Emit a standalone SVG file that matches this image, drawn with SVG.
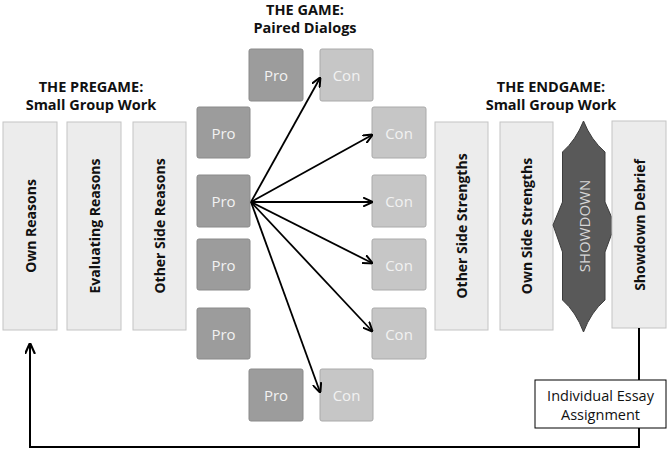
<svg xmlns="http://www.w3.org/2000/svg" width="670" height="453" viewBox="0 0 670 453">
<style>
.title{font-family:"Open Sans","Liberation Sans",sans-serif;font-weight:700;font-size:14.5px;fill:#111;text-anchor:middle}
.col{fill:#ececec;stroke:#c4c4c4;stroke-width:1}
.ct{font-family:"Open Sans","Liberation Sans",sans-serif;font-weight:700;font-size:14px;fill:#111;text-anchor:middle;dominant-baseline:central}
.pro{fill:#9c9c9c;stroke:#8a8a8a;stroke-width:1}
.con{fill:#c6c6c6;stroke:#aaaaaa;stroke-width:1}
.pt{font-family:"Open Sans","Liberation Sans",sans-serif;font-size:15px;fill:#f2f2f2;text-anchor:middle;dominant-baseline:central}
.arr{stroke:#000;stroke-width:1.8;fill:none;marker-end:url(#ah)}
.ln{stroke:#000;stroke-width:2;fill:none}
.et{font-family:"Open Sans","Liberation Sans",sans-serif;font-size:14.5px;fill:#111;text-anchor:middle;dominant-baseline:central}
</style>
<defs>
<marker id="ah" viewBox="0 0 10 10" refX="9" refY="5" markerWidth="5.5" markerHeight="5.5" orient="auto" markerUnits="strokeWidth">
<path d="M0,0.5 L10,5 L0,9.5" fill="none" stroke="#000" stroke-width="2"/>
</marker>
<marker id="ah2" viewBox="0 0 10 10" refX="9" refY="5" markerWidth="5.5" markerHeight="5.5" orient="auto" markerUnits="strokeWidth">
<path d="M0,0.5 L10,5 L0,9.5" fill="none" stroke="#000" stroke-width="2"/>
</marker>
</defs>
<rect width="670" height="453" fill="#fff"/>

<g id="titles">
<text class="title" x="91" y="92">THE PREGAME:</text>
<text class="title" x="91" y="110">Small Group Work</text>
<text class="title" x="305" y="15">THE GAME:</text>
<text class="title" x="305" y="33">Paired Dialogs</text>
<text class="title" x="551" y="92">THE ENDGAME:</text>
<text class="title" x="551" y="110">Small Group Work</text>
</g>

<g id="own-reasons"><rect class="col" x="3" y="122" width="54" height="208"/><text class="ct" transform="translate(30,226) rotate(-90)">Own Reasons</text></g>
<g id="evaluating-reasons"><rect class="col" x="67" y="122" width="54" height="208"/><text class="ct" transform="translate(94,226) rotate(-90)">Evaluating Reasons</text></g>
<g id="other-side-reasons"><rect class="col" x="133" y="122" width="53" height="208"/><text class="ct" transform="translate(159.5,226) rotate(-90)">Other Side Reasons</text></g>

<g id="pro-top"><rect class="pro" x="249" y="49" width="54" height="52" rx="2"/><text class="pt" x="276" y="75">Pro</text></g>
<g id="con-top"><rect class="con" x="320" y="49" width="53" height="52" rx="2"/><text class="pt" x="346.5" y="75">Con</text></g>
<g id="pro-1"><rect class="pro" x="197" y="107" width="53" height="51" rx="2"/><text class="pt" x="223.5" y="132.5">Pro</text></g>
<g id="pro-2"><rect class="pro" x="197" y="175" width="53" height="52" rx="2"/><text class="pt" x="223.5" y="201">Pro</text></g>
<g id="pro-3"><rect class="pro" x="197" y="239" width="53" height="51" rx="2"/><text class="pt" x="223.5" y="264.5">Pro</text></g>
<g id="pro-4"><rect class="pro" x="197" y="308" width="53" height="51" rx="2"/><text class="pt" x="223.5" y="333.5">Pro</text></g>
<g id="con-1"><rect class="con" x="372" y="107" width="54" height="51" rx="2"/><text class="pt" x="399" y="132.5">Con</text></g>
<g id="con-2"><rect class="con" x="372" y="175" width="54" height="52" rx="2"/><text class="pt" x="399" y="201">Con</text></g>
<g id="con-3"><rect class="con" x="372" y="239" width="54" height="51" rx="2"/><text class="pt" x="399" y="264.5">Con</text></g>
<g id="con-4"><rect class="con" x="372" y="308" width="54" height="51" rx="2"/><text class="pt" x="399" y="333.5">Con</text></g>
<g id="pro-bottom"><rect class="pro" x="249" y="369" width="54" height="52" rx="2"/><text class="pt" x="276" y="395">Pro</text></g>
<g id="con-bottom"><rect class="con" x="320" y="369" width="53" height="52" rx="2"/><text class="pt" x="346.5" y="395">Con</text></g>

<g id="other-side-strengths"><rect class="col" x="435" y="122" width="53" height="208"/><text class="ct" transform="translate(461.5,226) rotate(-90)">Other Side Strengths</text></g>
<g id="own-side-strengths"><rect class="col" x="500" y="122" width="53" height="208"/><text class="ct" transform="translate(526.5,226) rotate(-90)">Own Side Strengths</text></g>
<g id="showdown">
<path d="M583.5,121 Q591,140 605,152 L605,202 L615,225 L605,252 L605,300 Q591,312 583.5,332 Q576,312 562.5,300 L562.5,252 L553,225 L562.5,202 L562.5,152 Q576,140 583.5,121 Z" fill="#595959" stroke="#3c3c3c" stroke-width="1"/>
<text transform="translate(584,226) rotate(-90)" font-family="'Open Sans','Liberation Sans',sans-serif" font-size="15px" fill="#d6d6d6" text-anchor="middle" dominant-baseline="central">SHOWDOWN</text>
</g>
<g id="showdown-debrief"><rect class="col" x="612" y="121" width="54" height="207"/><text class="ct" transform="translate(639,225) rotate(-90)">Showdown Debrief</text></g>
<g id="essay"><rect x="535" y="380" width="131" height="48" fill="#fff" stroke="#000" stroke-width="1"/><text class="et" x="600.5" y="395">Individual Essay</text><text class="et" x="600.5" y="414">Assignment</text></g>

<g id="connectors">
<line class="arr" x1="251" y1="202" x2="320" y2="78"/>
<line class="arr" x1="251" y1="202" x2="372" y2="135"/>
<line class="arr" x1="251" y1="202" x2="372" y2="202"/>
<line class="arr" x1="251" y1="202" x2="372" y2="263"/>
<line class="arr" x1="251" y1="202" x2="372" y2="331"/>
<line class="arr" x1="251" y1="202" x2="320" y2="392"/>
<line class="ln" x1="639" y1="328" x2="639" y2="380"/>
<path class="ln" d="M639,428 L639,447 L30,447 L30,344" marker-end="url(#ah2)"/>
</g>
</svg>
